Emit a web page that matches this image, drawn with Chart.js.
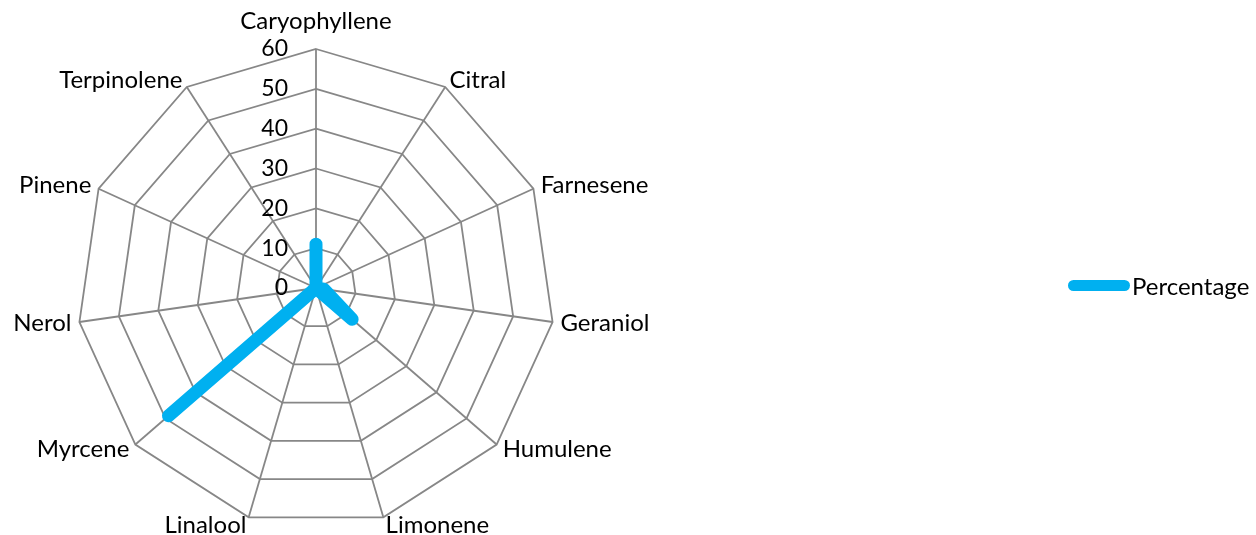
<!DOCTYPE html>
<html>
<head>
<meta charset="utf-8">
<script src="https://cdn.jsdelivr.net/npm/chart.js@4/dist/chart.umd.min.js"></script>
<style>
  html, body { margin: 0; padding: 0; background: #fff; }
  #wrap { position: relative; width: 1256px; height: 535px; overflow: hidden; }
  #box { position: absolute; left: 0; top: 0; width: 1256px; height: 535px; }
  #legend { position: absolute; left: 1068px; top: 271px; font: 24px Lato, sans-serif; color: #000; display: flex; align-items: center; }
  #legend .swatch { width: 62px; height: 11px; border-radius: 6px; background: #00B0F0; margin-right: 2px; }
</style>
</head>
<body>
<div id="wrap">
  <div id="box"><canvas id="chart"></canvas></div>
  <div id="legend"><span class="swatch"></span><span>Percentage</span></div>
</div>
<script>
// Данные диаграммы
const categories = ['Caryophyllene', 'Citral', 'Farnesene', 'Geraniol', 'Humulene', 'Limonene',
  'Linalool', 'Myrcene', 'Nerol', 'Pinene', 'Terpinolene'];
const percentage = [11, 0, 0, 2, 12, 0, 0, 49, 0, 0, 0];
const tickValues = [0, 10, 20, 30, 40, 50, 60];

const gridColor = '#878787';
const labelFont = '24px Lato, sans-serif';

// Подписи шкалы слева от вертикальной оси и подписи категорий (как в Excel)
const excelLabelsPlugin = {
  id: 'excelLabels',
  afterDraw(chart) {
    const scale = chart.scales.r;
    const ctx = chart.ctx;
    ctx.save();
    ctx.fillStyle = '#000';

    ctx.font = '23px Lato, sans-serif';
    ctx.textAlign = 'right';
    ctx.textBaseline = 'middle';
    tickValues.forEach(function(v) {
      const d = scale.getDistanceFromCenterForValue(v);
      ctx.fillText(String(v), scale.xCenter - 28, scale.yCenter - d);
    });

    ctx.font = labelFont;
    categories.forEach(function(label, i) {
      const angle = scale.getIndexAngle(i);
      const s = Math.sin(angle);
      if (Math.abs(s) < 0.05) {
        const p = scale.getPointPosition(i, scale.drawingArea + 20);
        ctx.textAlign = 'center';
        ctx.textBaseline = 'alphabetic';
        ctx.fillText(label, p.x, p.y);
      } else {
        const p = scale.getPointPosition(i, scale.drawingArea + 8);
        ctx.textAlign = s > 0 ? 'left' : 'right';
        ctx.textBaseline = 'middle';
        ctx.fillText(label, p.x, p.y);
      }
    });
    ctx.restore();
  }
};

const ctx = document.getElementById('chart').getContext('2d');
const chart = new Chart(ctx, {
  type: 'radar',
  data: {
    labels: categories,
    datasets: [{
      label: 'Percentage',
      data: percentage,
      borderColor: '#00B0F0',
      backgroundColor: 'rgba(0,0,0,0)',
      borderWidth: 13,
      borderCapStyle: 'round',
      borderJoinStyle: 'round',
      pointRadius: 0,
      pointHoverRadius: 0,
      fill: false
    }]
  },
  options: {
    responsive: true,
    maintainAspectRatio: false,
    animation: false,
    layout: { padding: { left: 77, top: 49, right: 701, bottom: 8 } },
    plugins: {
      legend: { display: false },
      tooltip: { enabled: false }
    },
    scales: {
      r: {
        min: 0,
        max: 60,
        ticks: { stepSize: 10, display: false },
        grid: { color: gridColor, lineWidth: 1.8 },
        angleLines: { color: gridColor, lineWidth: 1.8 },
        pointLabels: { display: false }
      }
    }
  },
  plugins: [excelLabelsPlugin]
});
</script>
</body>
</html>
